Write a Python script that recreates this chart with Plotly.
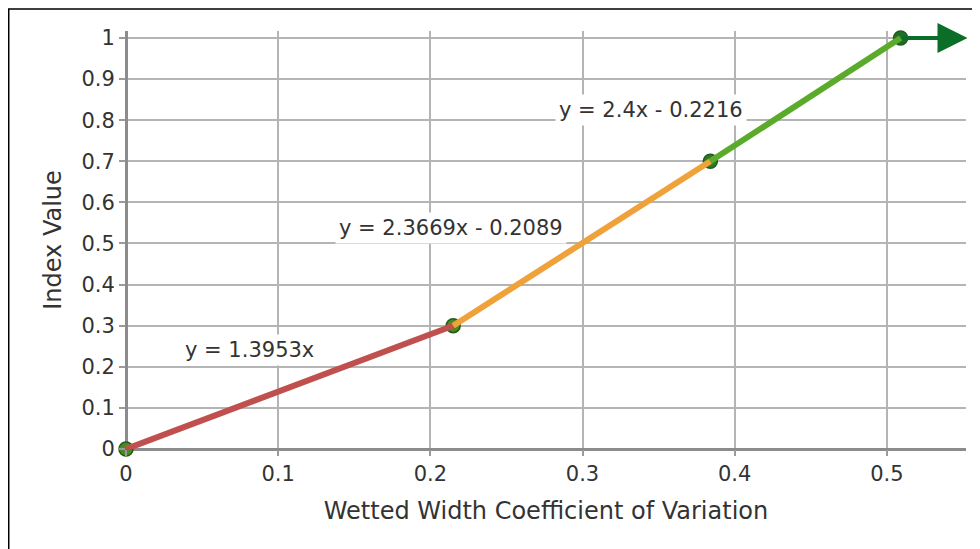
import plotly.graph_objects as go

# Data
seg_x = [[0.0, 0.215], [0.215, 0.384], [0.384, 0.509]]
seg_y = [[0.0, 0.3], [0.3, 0.7], [0.7, 1.0]]
seg_colors = ["#c0504d", "#f0a23a", "#5aab2a"]
point_x = [0.0, 0.215, 0.384, 0.509]
point_y = [0.0, 0.3, 0.7, 1.0]
point_fill = ["#4a8a24", "#4a8a24", "#2e7a2a", "#1e6e2e"]
eq_labels = ["y = 1.3953x", "y = 2.3669x - 0.2089", "y = 2.4x - 0.2216"]
eq_x = [0.0812, 0.2134, 0.345]
eq_y = [0.241, 0.538, 0.825]
arrow_end_x = 0.553
x_ticks = [0, 0.1, 0.2, 0.3, 0.4, 0.5]
y_ticks = [0, 0.1, 0.2, 0.3, 0.4, 0.5, 0.6, 0.7, 0.8, 0.9, 1]

FONT = "DejaVu Sans"
TXT = "#333333"

fig = go.Figure()

fig.add_trace(go.Scatter(
    x=point_x, y=point_y, mode="markers", cliponaxis=False,
    marker=dict(size=14, color=point_fill, line=dict(color="#245a18", width=1.5)),
    showlegend=False, hoverinfo="skip"))

for xs, ys, c in zip(seg_x, seg_y, seg_colors):
    fig.add_trace(go.Scatter(x=xs, y=ys, mode="lines", cliponaxis=False,
                             line=dict(color=c, width=6),
                             showlegend=False, hoverinfo="skip"))

for t, x, y in zip(eq_labels, eq_x, eq_y):
    fig.add_annotation(x=x, y=y, xref="x", yref="y", text=t, showarrow=False,
                       font=dict(family=FONT, size=21, color=TXT),
                       bgcolor="white", borderpad=3)

fig.add_annotation(x=arrow_end_x, y=point_y[-1], ax=point_x[-1], ay=point_y[-1],
                   xref="x", yref="y", axref="x", ayref="y", text="",
                   showarrow=True, arrowhead=2, arrowsize=1.5, arrowwidth=4,
                   arrowcolor="#0a6e28")

# outer border
fig.add_shape(type="rect", xref="paper", yref="paper",
              x0=-0.1396, y0=-0.5, x1=1.2, y1=1.0526,
              line=dict(color="black", width=1.5), fillcolor="rgba(0,0,0,0)")

axis_common = dict(showgrid=True, gridcolor="#b4b4b4", gridwidth=2,
                   showline=False, zeroline=True, zerolinecolor="#8c8c8c",
                   zerolinewidth=3, ticks="outside", ticklen=6, tickwidth=2,
                   tickcolor="#9a9a9a",
                   tickfont=dict(family=FONT, size=21, color=TXT))

fig.update_xaxes(range=[0, 0.552], tickvals=x_ticks,
                 ticktext=[str(v) for v in x_ticks],
                 title=dict(text="Wetted Width Coefficient of Variation",
                            font=dict(family=FONT, size=24, color=TXT),
                            standoff=16),
                 **axis_common)
fig.update_yaxes(range=[0, 1.017], tickvals=y_ticks,
                 ticktext=[str(v) for v in y_ticks],
                 title=dict(text="Index Value",
                            font=dict(family=FONT, size=24, color=TXT),
                            standoff=12),
                 **axis_common)

fig.update_layout(width=972, height=541,
                  margin=dict(l=118, r=14, t=23, b=100),
                  plot_bgcolor="white", paper_bgcolor="white",
                  showlegend=False)

fig.write_html("out.html")
